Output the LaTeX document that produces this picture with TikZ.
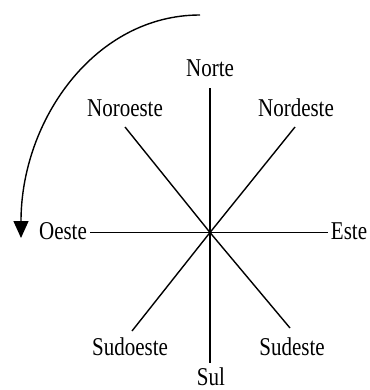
\documentclass[tikz,border=0pt]{standalone}
\usepackage{fontspec}
\usepackage{graphicx}
\setmainfont{Liberation Serif}
\usetikzlibrary{arrows.meta}
\newcommand\talltext[1]{\scalebox{1}[1.22]{#1}}
\begin{document}
\begin{tikzpicture}[x=1pt,y=-1pt,
  lbl/.style={anchor=base,inner sep=0pt,font=\fontsize{21}{21}\selectfont},
  ray/.style={line width=1.4pt}]
\useasboundingbox (0,0) rectangle (369,390);
% label nodes
\node[lbl] (norte) at (210,77) {\talltext{Norte}};
\node[lbl] (noroeste) at (125,117) {\talltext{Noroeste}};
\node[lbl] (nordeste) at (296,117) {\talltext{Nordeste}};
\node[lbl] (oeste) at (63,239) {\talltext{Oeste}};
\node[lbl] (este) at (349,239) {\talltext{Este}};
\node[lbl] (sudoeste) at (130,355) {\talltext{Sudoeste}};
\node[lbl] (sudeste) at (292,355) {\talltext{Sudeste}};
\node[lbl] (sul) at (211,385.5) {\talltext{Sul}};
% line end points
\coordinate (c) at (210,232.5);
\coordinate (pn) at (210,88);
\coordinate (ps) at (210,363);
\coordinate (pw) at (90,232.5);
\coordinate (pe) at (328,232.5);
\coordinate (pnw) at (125,127);
\coordinate (pne) at (295,127);
\coordinate (psw) at (132,331);
\coordinate (pse) at (290,328);
\draw[ray] (c) -- (pn);
\draw[ray] (c) -- (ps);
\draw[ray] (c) -- (pw);
\draw[ray] (c) -- (pe);
\draw[ray] (c) -- (pnw);
\draw[ray] (c) -- (pne);
\draw[ray] (c) -- (psw);
\draw[ray] (c) -- (pse);
% rotation arrow
\coordinate (astart) at (200,15);
\coordinate (aend) at (21,238);
\draw[line width=1.4pt,-{Triangle[length=17pt,width=15pt]}]
  (astart) .. controls (95,15) and (21,120) .. (aend);
\end{tikzpicture}
\end{document}
